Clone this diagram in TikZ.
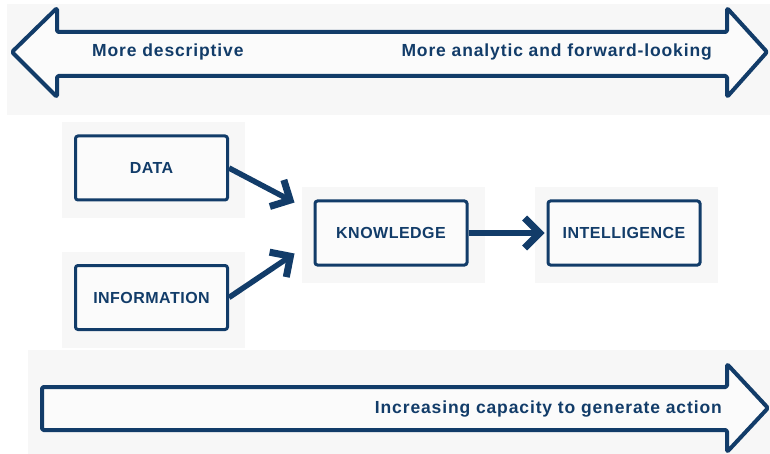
\documentclass[tikz,border=0pt]{standalone}
\usepackage{fontspec}
\setmainfont{Liberation Sans}[LetterSpace=5]
\newfontfamily\boxfont{Liberation Sans}[LetterSpace=3]
\usetikzlibrary{arrows.meta}
\definecolor{navy}{HTML}{123C69}
\definecolor{panel}{HTML}{F7F7F7}
\definecolor{boxfill}{HTML}{FBFBFB}
\tikzset{
  bigarrow/.style={draw=navy, line width=4pt, line join=round, rounded corners=1.5pt, fill=boxfill},
  stagebox/.style={draw=navy, line width=3pt, rounded corners=2.5pt, fill=boxfill,
    minimum width=152pt, minimum height=64pt, inner sep=0pt, text=navy,
    font=\boxfont\bfseries\fontsize{16}{19}\selectfont},
  arrowlabel/.style={text=navy, inner sep=0pt, font=\bfseries\fontsize{17.5}{20}\selectfont},
  flow/.style={draw=navy, line width=5.5pt, -{Straight Barb[length=15pt,width=30pt,line width=7pt]}}
}
\begin{document}
\begin{tikzpicture}[x=1pt,y=-1pt]
\useasboundingbox (0,0) rectangle (770,454);
% background panels
\fill[panel] (7,4) rectangle (770,115);
\fill[panel] (62,122) rectangle (245,218);
\fill[panel] (62,252) rectangle (245,348);
\fill[panel] (302,187) rectangle (485,283);
\fill[panel] (535,187) rectangle (718,283);
\fill[panel] (28,350) rectangle (770,454);
% top double arrow
\draw[bigarrow] (12,52) -- (57,8) -- (57,32) -- (727,32) -- (727,8) -- (767,52)
  -- (727,97) -- (727,76) -- (57,76) -- (57,97) -- cycle;
\node[arrowlabel, anchor=west] (desc) at (92,52) {More descriptive};
\node[arrowlabel, anchor=east] (anal) at (712,52) {More analytic and forward-looking};
% bottom arrow
\draw[bigarrow] (42,387) -- (727,387) -- (727,364) -- (768,408) -- (727,452)
  -- (727,430) -- (42,430) -- cycle;
\node[arrowlabel, anchor=east] (act) at (722,409) {Increasing capacity to generate action};
% boxes
\node[stagebox] (data) at (151.5,168) {DATA};
\node[stagebox] (info) at (151.5,297.5) {INFORMATION};
\node[stagebox] (know) at (391,233) {KNOWLEDGE};
\node[stagebox] (intel) at (624,233) {INTELLIGENCE};
% connectors
\draw[flow] (data.east) -- ([xshift=-19pt,yshift=-3pt]know.north west);
\draw[flow] (info.east) -- ([xshift=-19pt,yshift=13pt]know.south west);
\draw[flow] (know.east) -- ([xshift=-2pt]intel.west);
\end{tikzpicture}
\end{document}
